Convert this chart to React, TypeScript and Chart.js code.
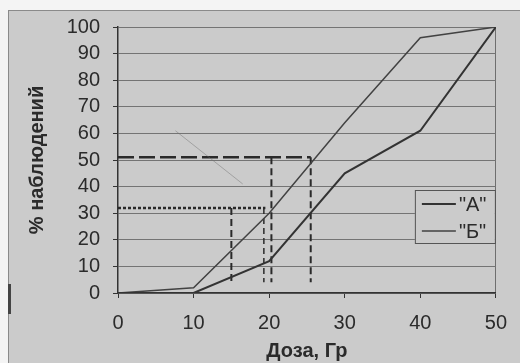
import React, { useEffect, useRef } from "react";
import { Chart, registerables } from "chart.js";

Chart.register(...registerables);

// ---- data ----
const doses = [0, 10, 20, 30, 40, 50];
const seriesA = [0, 0, 12, 45, 61, 100];
const seriesB = [0, 2, 30, 64, 96, 100];
const seriesLabels = ['"А"', '"Б"'];
const xTicks = [0, 10, 20, 30, 40, 50];
const yTicks = [0, 10, 20, 30, 40, 50, 60, 70, 80, 90, 100];

// guide lines (read-off levels)
const level50 = 51;
const level32 = 32;
const guideBottom = 4;
const guide50H = [[0, level50], [25.5, level50]];
const guide50V1 = [[20.3, level50], [20.3, guideBottom]];
const guide50V2 = [[25.5, level50], [25.5, guideBottom]];
const guide32H = [[0, level32], [19.5, level32]];
const guide32V1 = [[15, level32], [15, guideBottom]];
const guide32V2 = [[19.3, level32], [19.3, guideBottom]];
const faintTrace = [[7.6, 61], [16.5, 41]];

const FONT = "'Liberation Sans', Arial, sans-serif";
const TEXT = "#2b2b2b";
const BG = "#cbcbcb";

const toPts = (xs: number[], ys: number[]) => xs.map((x, i) => ({ x, y: ys[i] }));
const pairPts = (p: number[][]) => p.map(([x, y]) => ({ x, y }));

const legendPlugin = {
  id: "boxLegend",
  afterDraw(chart: any) {
    const ctx = chart.ctx;
    const area = chart.chartArea;
    const w = 80;
    const h = 53;
    const x0 = area.right - 1 - w;
    const y0 = 190;
    ctx.save();
    ctx.fillStyle = BG;
    ctx.fillRect(x0, y0, w, h);
    ctx.strokeStyle = "#555";
    ctx.lineWidth = 1;
    ctx.strokeRect(x0 + 0.5, y0 + 0.5, w, h);
    const entries = chart.data.datasets.filter((d: any) => d.inLegend);
    entries.forEach((d: any, i: number) => {
      const cy = y0 + 14 + i * 27;
      ctx.strokeStyle = d.borderColor;
      ctx.lineWidth = d.borderWidth;
      ctx.beginPath();
      ctx.moveTo(x0 + 7, cy);
      ctx.lineTo(x0 + 41, cy);
      ctx.stroke();
      ctx.fillStyle = TEXT;
      ctx.font = `20px ${FONT}`;
      ctx.textBaseline = "middle";
      ctx.textAlign = "left";
      ctx.fillText(d.label, x0 + 44, cy + 1);
    });
    ctx.restore();
  },
};

export default function App() {
  const ref = useRef<HTMLCanvasElement | null>(null);

  useEffect(() => {
    if (!ref.current) return;
    const guide = (pts: number[][], dash: number[], width: number) => ({
      label: "",
      data: pairPts(pts),
      borderColor: "#2a2a2a",
      borderWidth: width,
      borderDash: dash,
      pointRadius: 0,
      showLine: true,
      inLegend: false,
    });
    const chart = new Chart(ref.current, {
      type: "scatter",
      data: {
        datasets: [
          {
            label: seriesLabels[0],
            data: toPts(doses, seriesA),
            borderColor: "#333333",
            borderWidth: 2,
            pointRadius: 0,
            showLine: true,
            inLegend: true,
          } as any,
          {
            label: seriesLabels[1],
            data: toPts(doses, seriesB),
            borderColor: "#424242",
            borderWidth: 1.5,
            pointRadius: 0,
            showLine: true,
            inLegend: true,
          } as any,
          {
            label: "",
            data: pairPts(faintTrace),
            borderColor: "rgba(110,110,110,0.45)",
            borderWidth: 1,
            pointRadius: 0,
            showLine: true,
            inLegend: false,
          } as any,
          guide(guide50H, [16, 5], 2.5),
          guide(guide50V1, [7, 4], 2),
          guide(guide50V2, [7, 4], 2),
          guide(guide32H, [3, 2], 2.5),
          guide(guide32V1, [7, 4], 2),
          guide(guide32V2, [6, 4], 1.5),
        ],
      },
      options: {
        animation: false,
        responsive: false,
        layout: { padding: { top: 27, right: 21, left: 0, bottom: 0 } },
        plugins: { legend: { display: false }, tooltip: { enabled: false } },
        scales: {
          x: {
            type: "linear",
            min: 0,
            max: 50,
            afterBuildTicks: (s: any) => {
              s.ticks = xTicks.map((v) => ({ value: v }));
            },
            afterFit: (s: any) => {
              s.height = 70;
            },
            ticks: {
              color: TEXT,
              font: { family: FONT, size: 20 },
              padding: 13,
              maxRotation: 0,
              autoSkip: false,
            },
            grid: {
              color: (c: any) => (c.tick && c.tick.value === 50 ? "#6f6f6f" : "rgba(0,0,0,0)"),
              tickColor: "#333",
              tickLength: 5,
              lineWidth: 1,
            },
            border: { color: "#333", width: 1.5 },
            title: {
              display: true,
              text: "Доза, Гр",
              color: TEXT,
              font: { family: FONT, size: 20, weight: "bold" },
              padding: { top: 0, bottom: 0 },
            },
          },
          y: {
            type: "linear",
            min: 0,
            max: 100,
            afterBuildTicks: (s: any) => {
              s.ticks = yTicks.map((v) => ({ value: v }));
            },
            afterFit: (s: any) => {
              s.width = 118;
            },
            ticks: {
              color: TEXT,
              font: { family: FONT, size: 20 },
              padding: 13,
              autoSkip: false,
            },
            grid: {
              color: "#747474",
              tickColor: "#333",
              tickLength: 5,
              lineWidth: 1,
            },
            border: { color: "#333", width: 1.5 },
            title: {
              display: true,
              text: "% наблюдений",
              color: TEXT,
              font: { family: FONT, size: 20, weight: "bold" },
              padding: { top: 25, bottom: 0 },
            },
          },
        },
      },
      plugins: [legendPlugin],
    } as any);
    return () => chart.destroy();
  }, []);

  return (
    <div
      style={{
        position: "fixed",
        left: 0,
        top: 0,
        width: 520,
        height: 363,
        background: "#f4f4f4",
        overflow: "hidden",
      }}
    >
      <div
        style={{
          position: "absolute",
          left: 8,
          top: 10,
          right: 0,
          bottom: 0,
          background: BG,
          borderTop: "1px solid #8a8a8a",
          borderLeft: "1px solid #8a8a8a",
        }}
      />
      <div
        style={{
          position: "absolute",
          left: 8,
          top: 284,
          width: 3,
          height: 30,
          background: "#444",
        }}
      />
      <canvas
        ref={ref}
        width={520}
        height={363}
        style={{ position: "absolute", left: 0, top: 0, width: 520, height: 363 }}
      />
    </div>
  );
}
